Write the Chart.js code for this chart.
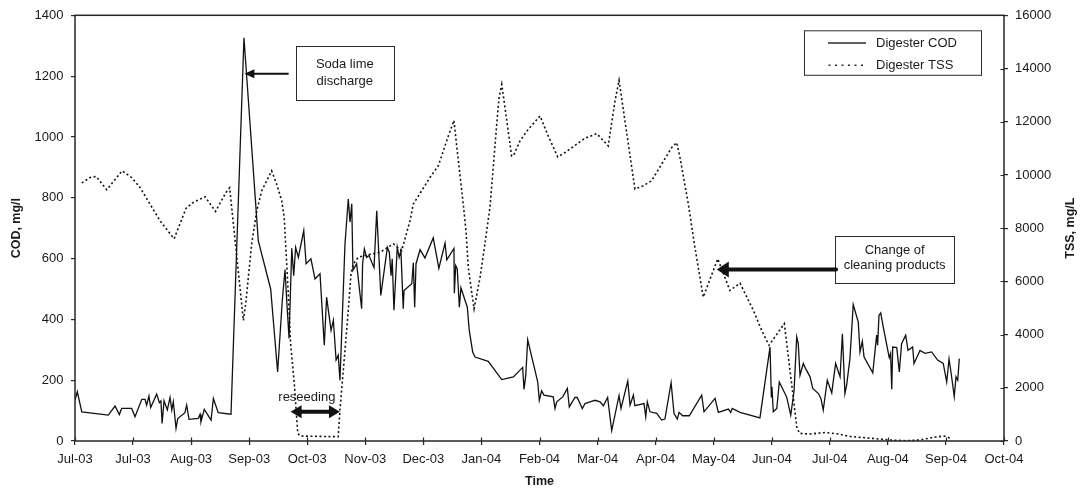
<!DOCTYPE html>
<html>
<head>
<meta charset="utf-8">
<title>Digester COD and TSS</title>
<script src="https://cdn.jsdelivr.net/npm/chart.js@4.4.1/dist/chart.umd.min.js"></script>
<style>
  html, body { margin: 0; padding: 0; background: #fff; }
  #wrap { width: 1084px; height: 490px; }
</style>
</head>
<body>
<div id="wrap"><canvas id="c" width="1084" height="490"></canvas></div>
<script>
// Axis tick labels (one every 30 days from 1 Jul 2003)
const tickLabels = ['Jul-03', 'Jul-03', 'Aug-03', 'Sep-03', 'Oct-03', 'Nov-03', 'Dec-03', 'Jan-04',
  'Feb-04', 'Mar-04', 'Apr-04', 'May-04', 'Jun-04', 'Jul-04', 'Aug-04', 'Sep-04', 'Oct-04'];

// Digester COD, mg/l — sampling day (days since 1 Jul 2003) and value
const codDays = [
  0, 1.2, 3.5, 17.2, 20.7, 22.9, 24.1, 29.3, 31.0, 34.5,
  36.2, 37.0, 38.2, 39.1, 42.2, 43.6, 44.4, 45.0, 46.0, 47.7,
  49.1, 50.0, 50.8, 52.2, 53.1, 56.8, 57.7, 58.9, 63.7, 64.6,
  65.1, 66.8, 70.3, 71.5, 74.0, 80.6, 87.3, 94.7, 101.1, 104.7,
  107.1, 108.5, 109.4, 110.6, 112.0, 113.0, 114.0, 115.4, 118.2, 119.4,
  121.9, 124.0, 126.6, 128.8, 130.0, 132.3, 133.5, 134.9, 136.0, 136.9,
  139.5, 141.2, 142.1, 143.0, 143.6, 145.5, 148.1, 148.6, 149.5, 150.7,
  151.9, 154.5, 155.9, 158.0, 161.4, 162.4, 163.3, 163.9, 164.8, 166.5,
  167.5, 168.4, 169.6, 170.0, 174.0, 174.8, 175.5, 176.2, 178.3, 180.8,
  185.1, 188.0, 191.2, 192.1, 195.8, 196.0, 196.7, 197.5, 198.6, 199.4,
  202.7, 203.7, 205.5, 206.7, 213.5, 220.5, 226.5, 231.3, 232.0, 232.9,
  233.9, 236.8, 239.1, 239.9, 241.1, 242.3, 247.1, 248.0, 248.9, 252.0,
  254.4, 255.4, 258.3, 259.5, 262.1, 263.5, 266.1, 268.7, 271.3, 273.0,
  275.2, 277.3, 281.1, 282.1, 285.6, 286.8, 288.5, 289.3, 294.0, 294.9,
  295.7, 297.1, 300.6, 303.1, 304.8, 308.0, 309.5, 311.2, 312.1, 314.0,
  317.4, 323.8, 325.0, 330.7, 332.4, 337.6, 338.8, 339.6, 343.6, 353.9,
  359.1, 359.8, 360.1, 360.8, 362.6, 363.9, 367.7, 369.8, 371.5, 372.9,
  373.7, 374.6, 376.3, 377.5, 379.8, 381.2, 384.1, 385.4, 386.6, 388.7,
  391.0, 393.0, 395.3, 396.5, 397.8, 398.7, 400.4, 402.1, 404.7, 405.6,
  406.8, 407.7, 412.2, 414.2, 414.7, 415.4, 416.3, 417.6, 420.7, 421.4,
  422.0, 422.5, 424.6, 425.9, 427.1, 429.2, 430.4, 432.8, 433.5, 436.6,
  439.2, 442.6, 445.7, 448.6, 450.4, 451.6, 452.6, 454.3, 455.2, 456.1, 456.9
];
const codValues = [
  135, 162, 96, 85, 115, 87, 107, 107, 80, 137,
  137, 118, 148, 110, 154, 126, 132, 58, 132, 102,
  143, 102, 129, 42, 74, 93, 118, 71, 74, 88,
  63, 104, 69, 140, 93, 88, 1326, 659, 500, 227,
  462, 564, 462, 337, 634, 544, 637, 604, 692, 583,
  599, 533, 550, 315, 473, 364, 397, 266, 282, 200,
  648, 796, 720, 780, 561, 583, 435, 583, 632, 604,
  610, 570, 757, 479, 637, 621, 544, 599, 430, 637,
  604, 626, 435, 495, 517, 586, 440, 583, 629, 602,
  668, 568, 651, 596, 633, 486, 577, 566, 440, 504,
  440, 364, 292, 276, 262, 202, 211, 242, 170, 216,
  333, 255, 194, 134, 165, 151, 145, 107, 129, 145,
  173, 112, 143, 143, 107, 123, 129, 134, 129, 116,
  143, 34, 149, 107, 197, 118, 151, 116, 123, 80,
  129, 96, 91, 69, 72, 192, 91, 72, 94, 83,
  83, 151, 96, 140, 94, 105, 94, 107, 94, 76,
  309, 145, 178, 96, 107, 194, 145, 85, 162, 342,
  320, 216, 255, 238, 211, 173, 156, 140, 102, 200,
  158, 255, 211, 353, 156, 184, 271, 449, 391, 293,
  328, 276, 224, 348, 315, 413, 421, 375, 274, 288,
  170, 309, 307, 227, 320, 348, 298, 309, 255, 298,
  288, 293, 266, 255, 194, 270, 227, 146, 211, 200, 271
];

// Digester TSS, mg/L — sampling day and value
const tssDays = [
  3.5, 7.8, 10.9, 16.4, 24.3, 29.3, 33.6, 43.9, 51.2, 57.4,
  61.1, 67.2, 72.6, 78.0, 79.9, 87.0, 88.2, 91.3, 93.9, 96.5,
  101.6, 104.2, 106.8, 108.1, 110.2, 111.4, 113.3, 115.1, 116.3, 136.0,
  136.9, 139.5, 141.2, 142.6, 143.8, 146.4, 153.3, 157.6, 164.5, 168.8,
  173.1, 174.8, 179.1, 183.4, 187.7, 192.9, 195.8, 197.5, 200.6, 202.0,
  203.2, 204.6, 206.2, 209.3, 211.8, 214.4, 216.1, 217.9, 219.1, 220.5,
  225.6, 226.5, 229.9, 234.2, 240.3, 244.5, 249.4, 253.2, 259.2, 263.5,
  269.6, 275.5, 279.0, 281.1, 289.3, 293.6, 297.9, 303.1, 308.3, 310.9,
  312.6, 316.9, 320.0, 324.6, 329.8, 332.1, 338.4, 343.6, 350.5, 354.8,
  358.6, 366.5, 369.4, 371.1, 372.9, 374.3, 379.8, 387.5, 394.4, 400.4,
  408.2, 421.1, 428.9, 436.6, 443.5, 449.2, 453.0
];
const tssValues = [
  9700, 9904, 9942, 9442, 10154, 9904, 9529, 8281, 7600, 8750,
  8967, 9180, 8630, 9342, 9520, 4534, 5160, 7408, 8656, 9405,
  10154, 9655, 9030, 8405, 5534, 3661, 2162, 288, 187, 161,
  1162, 3410, 4909, 6284, 6659, 6908, 7033, 7093, 7408, 7157,
  8281, 8906, 9405, 9904, 10342, 11466, 12050, 10904, 8906, 7906,
  6531, 5782, 4972, 6156, 7408, 8779, 10278, 11904, 12901, 13403,
  10716, 10716, 11278, 11717, 12215, 11466, 10679, 10841, 11155, 11380,
  11552, 11091, 12777, 13553, 9469, 9592, 9780, 10405, 11028, 11215,
  10653, 8906, 7408, 5407, 6407, 6846, 5658, 5931, 4909, 4159,
  3600, 4410, 2660, 1660, 536, 288, 262, 320, 262, 170,
  124, 37, 12, 37, 139, 187, 90
];

const FONT = '"Liberation Sans", Arial, Helvetica, sans-serif';
const INK = '#1a1a1a';
const TSS_DASH = [2, 2.5];

const toPoints = (xs, ys) => xs.map((d, i) => ({ x: d, y: ys[i] }));

// Arrow with a filled triangular head pointing at (x2, y2)
function arrowHead(ctx, x1, y1, x2, y2, len, half) {
  const ang = Math.atan2(y2 - y1, x2 - x1);
  ctx.beginPath();
  ctx.moveTo(x2, y2);
  ctx.lineTo(x2 - len * Math.cos(ang) + half * Math.sin(ang), y2 - len * Math.sin(ang) - half * Math.cos(ang));
  ctx.lineTo(x2 - len * Math.cos(ang) - half * Math.sin(ang), y2 - len * Math.sin(ang) + half * Math.cos(ang));
  ctx.closePath();
  ctx.fill();
}

// Frame, inner tick halves, axis titles, legend and the event notes
const decorations = {
  id: 'decorations',
  afterDraw(chart) {
    const { ctx, chartArea: a, scales } = chart;
    const xs = scales.x, yl = scales.y, yr = scales.y2;
    ctx.save();

    // plot frame
    ctx.strokeStyle = '#262626';
    ctx.lineWidth = 1.5;
    ctx.strokeRect(a.left, a.top, a.right - a.left, a.bottom - a.top);

    // tick marks crossing the bottom and right axes
    ctx.lineWidth = 1.2;
    ctx.beginPath();
    xs.ticks.forEach(t => {
      const px = Math.round(xs.getPixelForValue(t.value)) + 0.5;
      ctx.moveTo(px, a.bottom - 3.5); ctx.lineTo(px, a.bottom);
    });
    yr.ticks.forEach(t => {
      const py = Math.round(yr.getPixelForValue(t.value)) + 0.5;
      ctx.moveTo(a.right - 3.5, py); ctx.lineTo(a.right, py);
    });
    ctx.stroke();

    // axis titles
    ctx.fillStyle = INK;
    ctx.font = 'bold 12.5px ' + FONT;
    ctx.textAlign = 'center';
    ctx.textBaseline = 'middle';
    ctx.fillText('Time', (a.left + a.right) / 2, 482);
    const midY = (a.top + a.bottom) / 2;
    ctx.save(); ctx.translate(17, midY); ctx.rotate(-Math.PI / 2);
    ctx.fillText('COD, mg/l', 0, 0); ctx.restore();
    ctx.save(); ctx.translate(1070.5, midY); ctx.rotate(-Math.PI / 2);
    ctx.fillText('TSS, mg/L', 0, 0); ctx.restore();

    // legend
    const lx = a.right - 199.5, ly = a.top + 15.5;
    ctx.strokeStyle = '#2b2b2b';
    ctx.lineWidth = 1;
    ctx.strokeRect(lx, ly, 177, 44.5);
    ctx.lineWidth = 1.3;
    ctx.beginPath(); ctx.moveTo(lx + 23.5, ly + 12.2); ctx.lineTo(lx + 61.5, ly + 12.2); ctx.stroke();
    ctx.setLineDash([2, 4.5]);
    ctx.lineWidth = 1.6;
    ctx.beginPath(); ctx.moveTo(lx + 24, ly + 34.5); ctx.lineTo(lx + 62, ly + 34.5); ctx.stroke();
    ctx.setLineDash([]);
    ctx.font = '13px ' + FONT;
    ctx.textAlign = 'left';
    ctx.fillText(chart.data.datasets[0].label, lx + 71.5, ly + 12.5);
    ctx.fillText(chart.data.datasets[1].label, lx + 71.5, ly + 35);

    // note: soda lime discharge (anchored on the COD scale)
    const sL = xs.getPixelForValue(114.0), sR = xs.getPixelForValue(164.8);
    const sT = yl.getPixelForValue(1298), sB = yl.getPixelForValue(1120);
    ctx.lineWidth = 1;
    ctx.strokeStyle = '#2b2b2b';
    ctx.strokeRect(Math.round(sL) + 0.5, Math.round(sT) + 0.5, Math.round(sR - sL), Math.round(sB - sT));
    ctx.textAlign = 'center';
    ctx.fillText('Soda lime', (sL + sR) / 2, sT + 18.5);
    ctx.fillText('discharge', (sL + sR) / 2, sT + 35);
    const sTipX = xs.getPixelForValue(87.5), sY = yl.getPixelForValue(1208);
    ctx.strokeStyle = '#111';
    ctx.fillStyle = '#111';
    ctx.lineWidth = 2;
    ctx.beginPath(); ctx.moveTo(sL - 7, sY); ctx.lineTo(sTipX + 8, sY); ctx.stroke();
    arrowHead(ctx, sL, sY, sTipX, sY, 10, 4.5);

    // note: change of cleaning products (anchored on the TSS scale)
    const cL = xs.getPixelForValue(392.7), cR = xs.getPixelForValue(454.3);
    const cT = yr.getPixelForValue(7719), cB = yr.getPixelForValue(5947);
    ctx.lineWidth = 1;
    ctx.strokeStyle = '#2b2b2b';
    ctx.strokeRect(Math.round(cL) + 0.5, Math.round(cT) + 0.5, Math.round(cR - cL), Math.round(cB - cT));
    ctx.fillStyle = INK;
    ctx.fillText('Change of', (cL + cR) / 2, cT + 14.5);
    ctx.fillText('cleaning products', (cL + cR) / 2, cT + 30);
    const cTipX = xs.getPixelForValue(331.6), cY = yr.getPixelForValue(6445);
    ctx.strokeStyle = '#111';
    ctx.fillStyle = '#111';
    ctx.lineWidth = 4;
    ctx.beginPath(); ctx.moveTo(cL + 1, cY); ctx.lineTo(cTipX + 10, cY); ctx.stroke();
    ctx.beginPath(); ctx.arc(cL + 1, cY, 2, 0, Math.PI * 2); ctx.fill();
    arrowHead(ctx, cL, cY, cTipX, cY, 12, 8);

    // note: reseeding period
    const rA = xs.getPixelForValue(111.4), rB = xs.getPixelForValue(136.9);
    const rY = yl.getPixelForValue(96);
    ctx.lineWidth = 4;
    ctx.beginPath(); ctx.moveTo(rA + 8, rY); ctx.lineTo(rB - 8, rY); ctx.stroke();
    arrowHead(ctx, rB, rY, rA, rY, 11, 6.5);
    arrowHead(ctx, rA, rY, rB, rY, 11, 6.5);
    ctx.fillStyle = INK;
    ctx.font = '13px ' + FONT;
    ctx.fillText('reseeding', xs.getPixelForValue(119.8), yl.getPixelForValue(142));

    ctx.restore();
  }
};

const tickFont = { family: FONT, size: 13 };
const gridStyle = { drawOnChartArea: false, drawTicks: true, tickLength: 4, color: '#262626', lineWidth: 1.2 };
const plainNumber = v => String(v);

new Chart(document.getElementById('c'), {
  type: 'line',
  data: {
    datasets: [
      {
        label: 'Digester COD',
        data: toPoints(codDays, codValues),
        yAxisID: 'y',
        borderColor: '#111',
        borderWidth: 1.3,
        pointRadius: 0,
        tension: 0,
        fill: false
      },
      {
        label: 'Digester TSS',
        data: toPoints(tssDays, tssValues),
        yAxisID: 'y2',
        borderColor: '#111',
        borderWidth: 1.6,
        borderDash: TSS_DASH,
        pointRadius: 0,
        tension: 0,
        fill: false
      }
    ]
  },
  options: {
    responsive: false,
    devicePixelRatio: 1,
    animation: false,
    events: [],
    layout: { padding: { top: 14, left: 0, right: 0, bottom: 0 } },
    plugins: { legend: { display: false }, tooltip: { enabled: false } },
    scales: {
      x: {
        type: 'linear',
        min: 0,
        max: 480,
        afterFit(s) { s.height = 49; },
        ticks: {
          stepSize: 30,
          autoSkip: false,
          maxRotation: 0,
          padding: 7,
          color: INK,
          font: tickFont,
          callback: (v, i) => tickLabels[i]
        },
        grid: gridStyle,
        border: { display: false }
      },
      y: {
        position: 'left',
        min: 0,
        max: 1400,
        afterFit(s) { s.width = 75; },
        ticks: { stepSize: 200, padding: 7.5, color: INK, font: tickFont, callback: plainNumber },
        grid: gridStyle,
        border: { display: false }
      },
      y2: {
        position: 'right',
        min: 0,
        max: 16000,
        afterFit(s) { s.width = 80; },
        ticks: { stepSize: 2000, padding: 7, color: INK, font: tickFont, callback: plainNumber },
        grid: gridStyle,
        border: { display: false }
      }
    }
  },
  plugins: [decorations]
});
</script>
</body>
</html>
